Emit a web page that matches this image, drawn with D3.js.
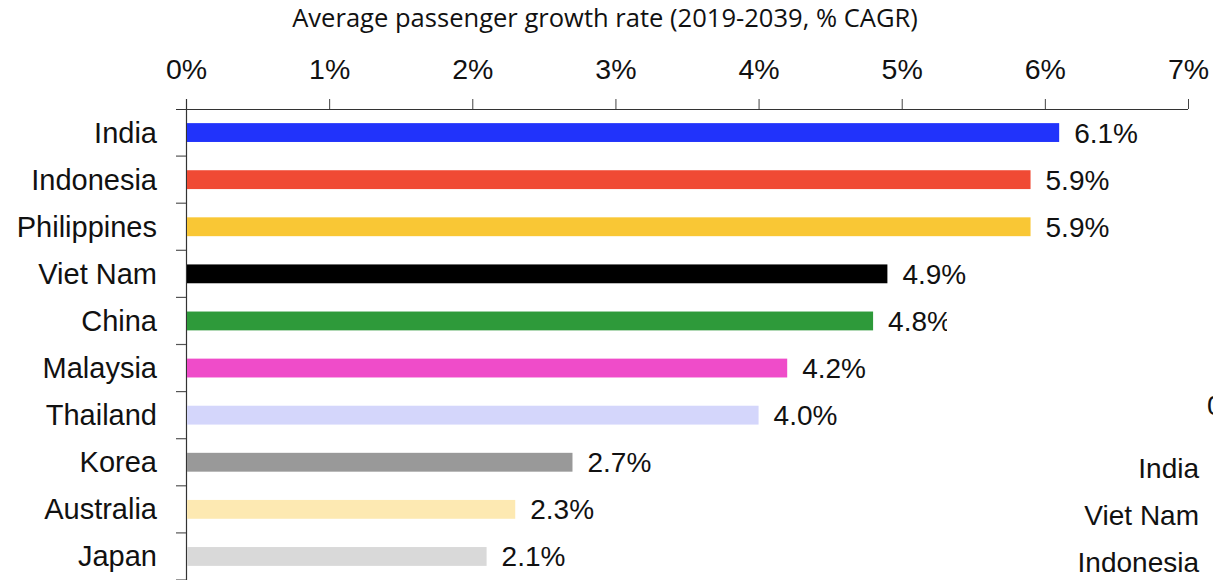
<!DOCTYPE html>
<html>
<head>
<meta charset="utf-8">
<script src="https://cdn.jsdelivr.net/npm/d3@7"></script>
<style>
  html, body { margin: 0; padding: 0; background: #fff; overflow: hidden; }
  svg { display: block; }
  .lbl { font-family: "Liberation Sans", Arial, sans-serif; font-size: 28px; fill: #111; }
  .cat { font-size: 29px; }
  .title { font-family: "Open Sans", sans-serif; fill: #111; }
</style>
</head>
<body>
<svg id="chart" width="1213" height="580"></svg>
<script>
// Average passenger growth rate, 2019-2039 (% CAGR)
const categories = ["India", "Indonesia", "Philippines", "Viet Nam", "China",
                    "Malaysia", "Thailand", "Korea", "Australia", "Japan"];
const values = [6.1, 5.9, 5.9, 4.9, 4.8, 4.2, 4.0, 2.7, 2.3, 2.1];
const colors = ["#2133fb", "#f04a34", "#f9c735", "#000000", "#2e9a3a",
                "#ef4cc9", "#d4d6fb", "#999999", "#fde9b2", "#d9d9d9"];
const xTicks = [0, 1, 2, 3, 4, 5, 6, 7];
const titleText = "Average passenger growth rate (2019-2039, % CAGR)";
// neighbouring panel, partly visible at the right edge
const sideCategories = ["India", "Viet Nam", "Indonesia"];
const sideTick = "0%";

const svg = d3.select("#chart");
const axisY = 109;

const x = d3.scaleLinear().domain([0, 7]).range([186, 1188]);
const y = d3.scaleBand().domain(categories).range([axisY, 580])
  .paddingInner(0.6).paddingOuter(0.3);
const step = y.step();

// title, fitted to its width
const title = svg.append("text").attr("class", "title")
  .attr("x", 605).attr("y", 27).attr("text-anchor", "middle")
  .style("font-size", "22px").text(titleText);
const tw = title.node().getComputedTextLength();
title.style("font-size", (22 * 626 / tw).toFixed(2) + "px");

// top axis
const xAxis = d3.axisTop(x).tickValues(xTicks).tickFormat(d => d + "%")
  .tickSize(10).tickPadding(20);
const gx = svg.append("g").attr("transform", `translate(0,${axisY})`).call(xAxis);
gx.select(".domain").remove();
gx.selectAll(".tick line").attr("stroke", "#444").attr("stroke-width", 1);
gx.selectAll(".tick text").attr("class", "lbl").attr("fill", "#111")
  .style("font-family", "Liberation Sans, Arial, sans-serif").style("font-size", "28.5px");
svg.append("line").attr("x1", 176).attr("x2", x(7)).attr("y1", axisY + 0.5).attr("y2", axisY + 0.5)
  .attr("stroke", "#333").attr("stroke-width", 1.2);

// category axis
svg.append("line").attr("x1", x(0) + 0.5).attr("x2", x(0) + 0.5)
  .attr("y1", axisY - 10).attr("y2", 580).attr("stroke", "#333").attr("stroke-width", 1.2);
const boundaries = d3.range(1, categories.length + 1).map(i => axisY + i * step);
svg.append("g").selectAll("line").data(boundaries).join("line")
  .attr("x1", 176).attr("x2", x(0)).attr("y1", d => d).attr("y2", d => d)
  .attr("stroke", "#555").attr("stroke-width", 1.2);

svg.append("g").selectAll("text").data(categories).join("text")
  .attr("class", "lbl cat").attr("text-anchor", "end")
  .attr("x", 157).attr("y", d => y(d) + y.bandwidth() / 2 + 10)
  .text(d => d);

// bars
svg.append("g").selectAll("rect").data(categories).join("rect")
  .attr("x", x(0) + 1).attr("y", d => y(d))
  .attr("width", (d, i) => x(values[i]) - x(0) - 1)
  .attr("height", y.bandwidth())
  .attr("fill", (d, i) => colors[i]);

// value labels
const defs = svg.append("defs");
defs.append("clipPath").attr("id", "labelClip")
  .append("rect").attr("x", 0).attr("y", 0).attr("width", 947).attr("height", 580);

svg.append("g").selectAll("text").data(categories).join("text")
  .attr("class", "lbl")
  .attr("x", (d, i) => x(values[i]) + 15)
  .attr("y", d => y(d) + y.bandwidth() / 2 + 10)
  .attr("clip-path", d => d === "China" ? "url(#labelClip)" : null)
  .text((d, i) => d3.format(".1f")(values[i]) + "%");

// neighbouring panel labels at the right edge
const sideTop = 415;
svg.append("text").attr("class", "lbl").attr("x", 1207).attr("y", sideTop).text(sideTick);
svg.append("g").selectAll("text").data(sideCategories).join("text")
  .attr("class", "lbl").attr("text-anchor", "end")
  .attr("x", 1199).attr("y", (d, i) => sideTop + 63 + i * step)
  .text(d => d);
</script>
</body>
</html>
